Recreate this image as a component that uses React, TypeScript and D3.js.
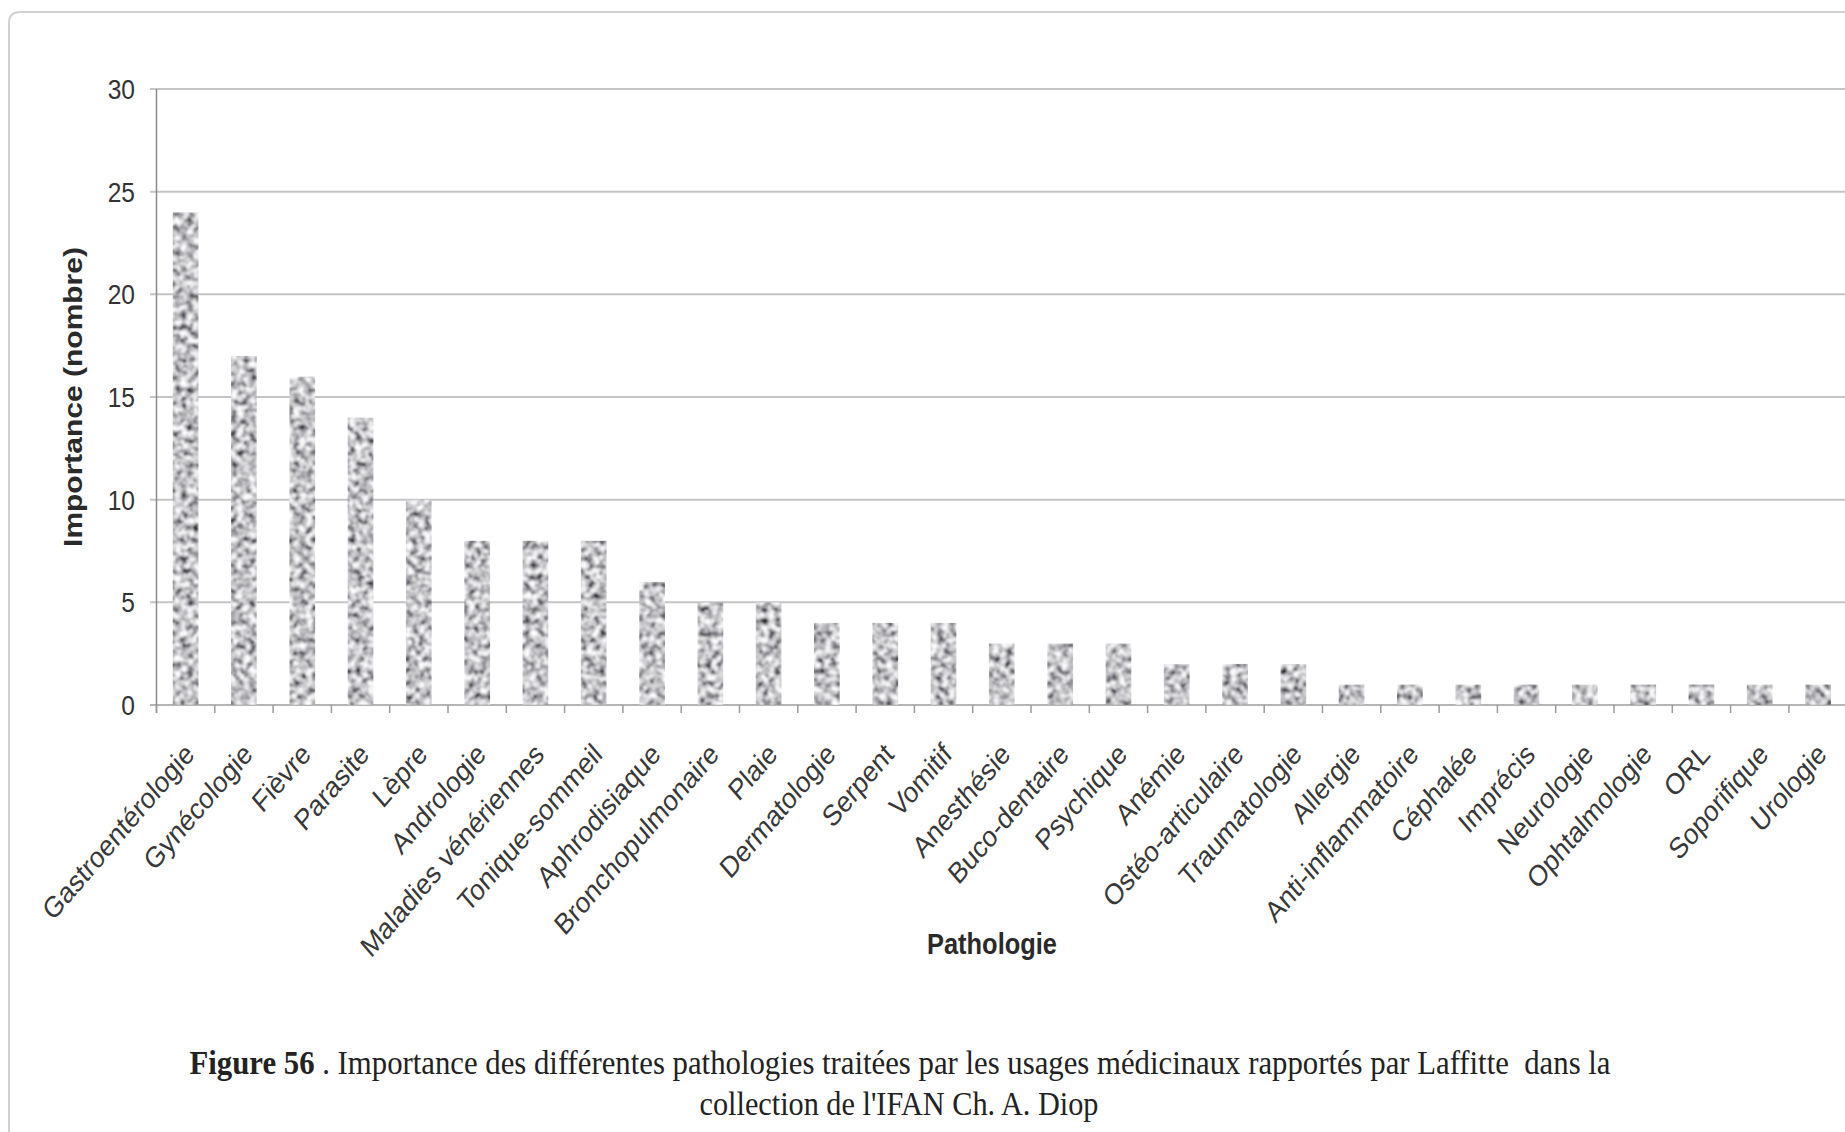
import React, { useEffect } from "react";
import * as d3 from "d3";

const categories: string[] = [
  "Gastroentérologie", "Gynécologie", "Fièvre", "Parasite", "Lèpre", "Andrologie",
  "Maladies vénériennes", "Tonique-sommeil", "Aphrodisiaque", "Bronchopulmonaire",
  "Plaie", "Dermatologie", "Serpent", "Vomitif", "Anesthésie", "Buco-dentaire",
  "Psychique", "Anémie", "Ostéo-articulaire", "Traumatologie", "Allergie",
  "Anti-inflammatoire", "Céphalée", "Imprécis", "Neurologie", "Ophtalmologie",
  "ORL", "Soporifique", "Urologie",
];
const values: number[] = [
  24, 17, 16, 14, 10, 8, 8, 8, 6, 5, 5, 4, 4, 4, 3, 3, 3, 2, 2, 2, 1, 1, 1, 1, 1, 1, 1, 1, 1,
];
const yTicks: number[] = [0, 5, 10, 15, 20, 25, 30];
const yTitle = "Importance (nombre)";
const xTitle = "Pathologie";
const captionBold = "Figure 56";
const captionLine1 = " . Importance des différentes pathologies traitées par les usages médicinaux rapportés par Laffitte\u00a0\u00a0dans la";
const captionLine2 = "collection de l'IFAN Ch. A. Diop";

const W = 1845;
const H = 1132;
const SX = 0.877; // horizontal compression of text
const X0 = 156.5;
const BAND = 58.3;

export default function App() {
  useEffect(() => {
    document.body.style.margin = "0";
  }, []);

  const x = d3
    .scaleBand<string>()
    .domain(categories)
    .range([X0, X0 + BAND * categories.length])
    .paddingInner(0.555)
    .paddingOuter(0.2775);
  const y = d3.scaleLinear().domain([0, 30]).range([705, 89]);

  const sans = "Arial, 'Liberation Sans', Helvetica, sans-serif";
  const serif = "'Times New Roman', 'Liberation Serif', serif";
  const step = x.step();
  const tickXs = d3.range(categories.length + 1).map((i) => X0 + i * step);

  return (
    <svg
      width={W}
      height={H}
      viewBox={`0 0 ${W} ${H}`}
      style={{ position: "absolute", left: 0, top: 0, display: "block", background: "#fff" }}
    >
      <defs>
        <filter id="granite" x="0" y="0" width="100%" height="100%" filterUnits="objectBoundingBox">
          <feTurbulence type="fractalNoise" baseFrequency="0.16" numOctaves="3" seed="7" result="noise" />
          <feColorMatrix
            in="noise"
            type="matrix"
            values="2.1 0 0 0 -0.5  2.1 0 0 0 -0.5  2.1 0 0 0 -0.48  0 0 0 0 1"
            result="gray"
          />
          <feGaussianBlur in="gray" stdDeviation="0.9" result="soft" />
          <feComposite in="soft" in2="SourceGraphic" operator="in" />
        </filter>
      </defs>
      <rect x={0} y={0} width={W} height={H} fill="#ffffff" />
      {/* outer frame */}
      <path
        d={`M ${W + 5} 12 L 20 12 Q 9 12 9 23 L 9 ${H + 5}`}
        fill="none"
        stroke="#d2d2d2"
        strokeWidth={2}
      />

      {/* gridlines */}
      {yTicks.map((t) => (
        <line
          key={"g" + t}
          x1={150}
          x2={W}
          y1={y(t)}
          y2={y(t)}
          stroke={t === 0 ? "#b4b4b4" : "#c4c4c4"}
          strokeWidth={2}
        />
      ))}
      {/* y axis */}
      <line x1={X0} x2={X0} y1={y(30)} y2={y(0) + 8} stroke="#8a8a8a" strokeWidth={1.5} />
      {/* x ticks */}
      {tickXs.map((tx, i) => (
        <line key={"xt" + i} x1={tx} x2={tx} y1={y(0)} y2={y(0) + 8} stroke="#9a9a9a" strokeWidth={1.5} />
      ))}

      {/* bars */}
      {categories.map((c, i) => (
        <rect
          key={"b" + c}
          x={x(c)!}
          y={y(values[i])}
          width={x.bandwidth()}
          height={y(0) - y(values[i])}
          fill="#999"
          filter="url(#granite)"
        />
      ))}

      {/* y tick labels */}
      {yTicks.map((t) => (
        <text
          key={"yl" + t}
          transform={`translate(135,${y(t)}) scale(${SX},1)`}
          textAnchor="end"
          dy="0.36em"
          fontFamily={sans}
          fontSize={28}
          fill="#333"
        >
          {t}
        </text>
      ))}

      {/* y title */}
      <text
        transform={`translate(82,397) scale(${SX},1) rotate(-90)`}
        textAnchor="middle"
        fontFamily={sans}
        fontWeight="bold"
        fontSize={30}
        fill="#2a2a2a"
      >
        {yTitle}
      </text>

      {/* x labels */}
      {categories.map((c) => (
        <text
          key={"xl" + c}
          transform={`translate(${x(c)! + x.bandwidth() / 2 + 10},${y(0) + 51}) scale(0.86,1) rotate(-45)`}
          textAnchor="end"
          fontFamily={sans}
          fontSize={29.5}
          fill="#383838"
        >
          {c}
        </text>
      ))}

      {/* x title */}
      <text
        transform={`translate(992,954) scale(${SX},1)`}
        textAnchor="middle"
        fontFamily={sans}
        fontWeight="bold"
        fontSize={29}
        fill="#2a2a2a"
      >
        {xTitle}
      </text>

      {/* caption */}
      <text
        transform={`translate(900,1074) scale(0.905,1)`}
        textAnchor="middle"
        fontFamily={serif}
        fontSize={34}
        fill="#222"
      >
        <tspan fontWeight="bold">{captionBold}</tspan>
        <tspan>{captionLine1}</tspan>
      </text>
      <text
        transform={`translate(899,1115) scale(0.89,1)`}
        textAnchor="middle"
        fontFamily={serif}
        fontSize={34}
        fill="#222"
      >
        {captionLine2}
      </text>
    </svg>
  );
}
